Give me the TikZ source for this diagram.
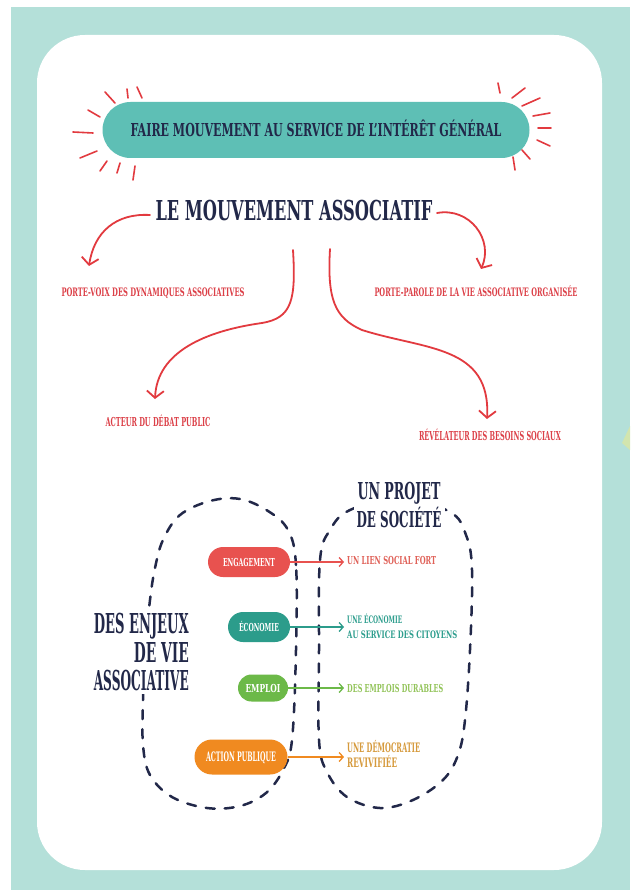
\documentclass[tikz,border=0pt]{standalone}
\usepackage{graphicx}
\usepackage{fontspec}
\newfontfamily\disp{DejaVu Serif}
\usetikzlibrary{arrows.meta,shapes.misc}
\definecolor{bgteal}{HTML}{B4E0D9}
\definecolor{banteal}{HTML}{5EBFB5}
\definecolor{navy}{HTML}{222849}
\definecolor{rayred}{HTML}{E23A3F}
\definecolor{lblred}{HTML}{DC4048}
\definecolor{engred}{HTML}{E8524F}
\definecolor{ecoteal}{HTML}{2C9C8B}
\definecolor{empgreen}{HTML}{6CB948}
\definecolor{actorange}{HTML}{F08A20}
\definecolor{lientxt}{HTML}{E06158}
\definecolor{ecotxt}{HTML}{2E9E8E}
\definecolor{emptxt}{HTML}{93C45A}
\definecolor{demtxt}{HTML}{D69A3C}
\definecolor{trigreen}{HTML}{D2E5AE}
% width, cap height, text
\newcommand\fitw[3]{\resizebox{#1pt}{#2pt}{\disp\bfseries\fontsize{10}{12}\selectfont\rule{0pt}{7.29pt}\smash{#3}}}
\begin{document}
\begin{tikzpicture}[x=1pt,y=-1pt,
  banner/.style={rounded rectangle, fill=banteal, minimum width=427pt, minimum height=56pt, inner sep=0pt, text=navy},
  ray/.style={draw=rayred, line width=1.6pt, line cap=round},
  lbl/.style={inner sep=1pt, text=lblred},
  redarrow/.style={draw=rayred, line width=1.8pt, line cap=round, -{Straight Barb[length=7pt,width=17pt,line width=1.8pt]}},
  loopdash/.style={draw=navy, line width=2.5pt, line cap=round, dash pattern=on 9pt off 10pt},
  pill/.style={rounded rectangle, inner sep=0pt, text=white},
  pillarrow/.style={line width=1.3pt, -{Straight Barb[length=4pt,width=9pt,line width=1.3pt]}, shorten >=2pt},
  rtxt/.style={anchor=west, inner sep=1pt},
  title/.style={text=navy, fill=white, inner sep=3pt}
]
\useasboundingbox (0,0) rectangle (630,890);
\fill[white] (0,0) rectangle (630,890);
\fill[bgteal] (11,7) rectangle (630,890);
\fill[trigreen] (630,426) -- (622,443) -- (630,450) -- cycle;
\fill[white, rounded corners=48pt] (37,35) rectangle (602,870);

% banner
\node[banner] (ban) at (316,130) {\fitw{371}{13}{FAIRE MOUVEMENT AU SERVICE DE L’INTÉRÊT GÉNÉRAL}};
% rays left
\draw[ray] (105,92) -- (115,103);
\draw[ray] (127,89) -- (128,98);
\draw[ray] (137,87) -- (142,98);
\draw[ray] (88,110) -- (100,117);
\draw[ray] (73,132) -- (93,133);
\draw[ray] (80,158) -- (97,151);
\draw[ray] (100,171) -- (107,161);
\draw[ray] (117,173) -- (120,163);
\draw[ray] (133,180) -- (135,166);
% rays right
\draw[ray] (498,83) -- (500,93);
\draw[ray] (512,98) -- (525,88);
\draw[ray] (522,106) -- (540,98);
\draw[ray] (533,116) -- (550,113);
\draw[ray] (538,128) -- (551,128);
\draw[ray] (537,140) -- (550,146);
\draw[ray] (522,150) -- (530,159);
\draw[ray] (513,157) -- (515,170);

% headline
\node[text=navy, inner sep=1pt] (mv) at (294,211) {\fitw{277}{20}{LE MOUVEMENT ASSOCIATIF}};

% labels
\node[lbl] (pv) at (153,292) {\fitw{183}{8.5}{PORTE-VOIX DES DYNAMIQUES ASSOCIATIVES}};
\node[lbl] (pp) at (476,292) {\fitw{203}{8.5}{PORTE-PAROLE DE LA VIE ASSOCIATIVE ORGANISÉE}};
\node[lbl] (ad) at (158,422) {\fitw{105}{9}{ACTEUR DU DÉBAT PUBLIC}};
\node[lbl] (rb) at (490,436) {\fitw{142}{9}{RÉVÉLATEUR DES BESOINS SOCIAUX}};

% red arrows
\coordinate (a1s) at (150,215);
\coordinate (a1e) at (89,266);
\coordinate (a2s) at (437,213);
\coordinate (a2e) at (481,269);
\coordinate (a3s) at (293,250);
\coordinate (a3e) at (155,399);
\coordinate (a4s) at (330,249);
\coordinate (a4e) at (487,419);
\draw[redarrow] (a1s) .. controls (116,213) and (94,232) .. (a1e);
\draw[redarrow] (a2s) .. controls (470,207) and (494,240) .. (a2e);
\draw[redarrow] (a3s) .. controls (296,300) and (292,318) .. (262,323) .. controls (205,331) and (157,352) .. (a3e);
\draw[redarrow] (a4s) .. controls (327,300) and (335,318) .. (362,330) .. controls (425,350) and (491,345) .. (a4e);

% dashed loops
\draw[loopdash] plot[smooth cycle, tension=0.6] coordinates {(296,650) (296,565) (288,530) (268,511) (240,499) (210,501) (180,515) (163,540) (155,568) (150,600) (145,650) (143,700) (143,745) (150,775) (172,797) (207,808) (240,806) (266,793) (283,770) (292,740)};
\draw[loopdash] plot[smooth cycle, tension=0.6] coordinates {(319,650) (320,560) (330,530) (350,510) (400,498) (450,512) (466,535) (472,570) (470,650) (465,720) (458,755) (443,780) (413,800) (380,808) (347,797) (327,772) (319,740)};

% titles of loops
\node[title, anchor=east, align=right, font=\fontsize{10}{28.5}\selectfont] (enj) at (192,652) {\fitw{95}{20}{DES ENJEUX}\\\fitw{55}{20}{DE VIE}\\\fitw{95}{20}{ASSOCIATIVE}};
\node[title, align=center, font=\fontsize{10}{28}\selectfont] (proj) at (399,505) {\fitw{83}{17}{UN PROJET}\\\fitw{85}{16}{DE SOCIÉTÉ}};

% pills
\node[pill, fill=engred, minimum width=82pt, minimum height=30pt] (eng) at (249,562) {\fitw{52}{8}{ENGAGEMENT}};
\node[pill, fill=ecoteal, minimum width=62pt, minimum height=30pt] (eco) at (259,627) {\fitw{40}{8}{ÉCONOMIE}};
\node[pill, fill=empgreen, minimum width=50pt, minimum height=27pt] (emp) at (263,688) {\fitw{35}{8}{EMPLOI}};
\node[pill, fill=actorange, minimum width=93pt, minimum height=35pt] (act) at (241,757) {\fitw{70}{9.5}{ACTION PUBLIQUE}};

% right texts
\node[rtxt, text=lientxt] (lien) at (346,560) {\fitw{89}{8}{UN LIEN SOCIAL FORT}};
\node[rtxt, text=ecotxt, align=left, font=\fontsize{10}{15}\selectfont] (econ) at (346,627) {\fitw{55}{7.5}{UNE ÉCONOMIE}\\\fitw{110}{7.5}{AU SERVICE DES CITOYENS}};
\node[rtxt, text=emptxt] (empl) at (346,688) {\fitw{96}{8}{DES EMPLOIS DURABLES}};
\node[rtxt, text=demtxt, align=left, font=\fontsize{10}{15.5}\selectfont] (demo) at (346,755) {\fitw{73}{9.5}{UNE DÉMOCRATIE}\\\fitw{50}{9.5}{REVIVIFIÉE}};

% pill arrows
\draw[pillarrow, draw=engred] (eng.east) -- (eng.east -| lien.west);
\draw[pillarrow, draw=ecoteal] (eco.east) -- (eco.east -| econ.west);
\draw[pillarrow, draw=empgreen] (emp.east) -- (emp.east -| empl.west);
\draw[pillarrow, draw=actorange] (act.east) -- (act.east -| demo.west);
\end{tikzpicture}
\end{document}
